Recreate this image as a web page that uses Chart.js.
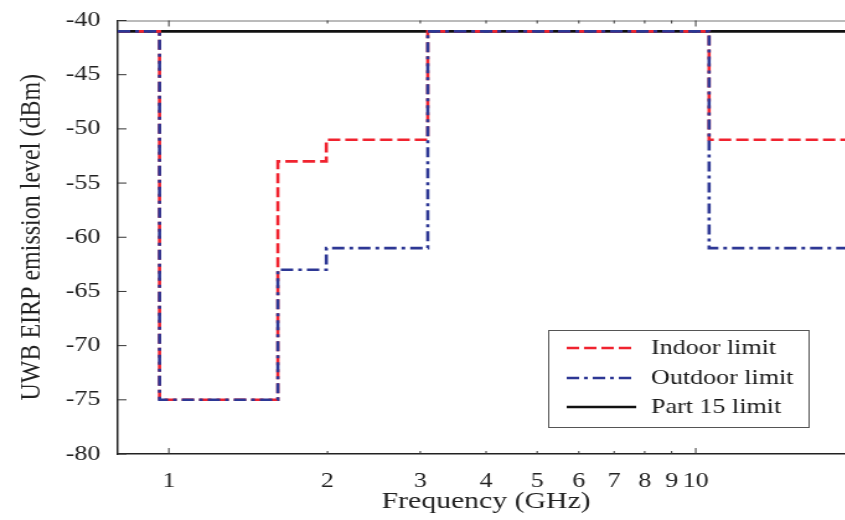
<!DOCTYPE html>
<html>
<head>
<meta charset="utf-8">
<script src="https://cdn.jsdelivr.net/npm/chart.js@4.4.0/dist/chart.umd.min.js"></script>
<style>
html, body { margin: 0; padding: 0; overflow: hidden; background: #fff; }
/* the reference is stretched sideways, so the whole chart is too */
#chart-container { width: 690px; height: 520px; transform: scaleX(1.24); transform-origin: 0 0; }
</style>
</head>
<body>
<div id="chart-container"><canvas id="mycanvas" width="690" height="520"></canvas></div>
<script>
// FCC UWB emission mask, step changes at these frequencies (GHz)
var freqBreaks = [0.8, 0.96, 1.61, 1.99, 3.1, 10.6, 20];
var indoorLimit = [-41, -75, -53, -51, -41, -51, -51];
var outdoorLimit = [-41, -75, -63, -61, -41, -61, -61];
var part15Limit = [-41, -41, -41, -41, -41, -41, -41];

var xTickValues = [1, 2, 3, 4, 5, 6, 7, 8, 9, 10];
var xTickLabels = ['1', '2', '3', '4', '5', '6', '7', '8', '9', '10'];
var yTickValues = [-80, -75, -70, -65, -60, -55, -50, -45, -40];

var serif = '"Liberation Serif", "Times New Roman", serif';

// each value holds from its break up to the next one
var toPoints = function(ys) {
    return freqBreaks.map(function(f, i) { return { x: f, y: ys[i] }; });
};

// legend entries, drawn in a box inside the plot
var legendItems = [
    { text: 'Indoor limit', color: '#f0232f', dash: [10, 4] },
    { text: 'Outdoor limit', color: '#2d3794', dash: [10, 4, 3, 4] },
    { text: 'Part 15 limit', color: '#111111', dash: [] }
];

var framePlugin = {
    id: 'frame',
    afterDraw: function(chart) {
        var ctx = chart.ctx;
        var a = chart.chartArea;
        var xs = chart.scales.x;
        var ys = chart.scales.y;
        ctx.save();
        // top border
        ctx.strokeStyle = '#777';
        ctx.lineWidth = 1;
        ctx.beginPath();
        ctx.moveTo(a.left, a.top + 0.5);
        ctx.lineTo(a.right, a.top + 0.5);
        ctx.stroke();
        // inward ticks
        ctx.strokeStyle = '#333';
        xTickValues.forEach(function(v) {
            var px = xs.getPixelForValue(v);
            var len = (v === 1 || v === 10) ? 6 : 3;
            ctx.beginPath();
            ctx.moveTo(px, a.bottom);
            ctx.lineTo(px, a.bottom - len);
            ctx.moveTo(px, a.top);
            ctx.lineTo(px, a.top + len);
            ctx.stroke();
        });
        yTickValues.forEach(function(v) {
            var py = ys.getPixelForValue(v);
            ctx.beginPath();
            ctx.moveTo(a.left, py);
            ctx.lineTo(a.left + 7, py);
            ctx.stroke();
        });

        // legend box
        var bx = 442, by = 330, bw = 210, bh = 97;
        ctx.fillStyle = '#fff';
        ctx.fillRect(bx, by, bw, bh);
        ctx.strokeStyle = '#555';
        ctx.lineWidth = 1;
        ctx.strokeRect(bx + 0.5, by + 0.5, bw, bh);
        var rows = [348, 378, 407];
        ctx.font = '21px ' + serif;
        ctx.textBaseline = 'middle';
        ctx.textAlign = 'left';
        legendItems.forEach(function(item, i) {
            ctx.strokeStyle = item.color;
            ctx.lineWidth = 2.6;
            ctx.setLineDash(item.dash);
            ctx.beginPath();
            ctx.moveTo(457, rows[i]);
            ctx.lineTo(513, rows[i]);
            ctx.stroke();
            ctx.setLineDash([]);
            ctx.fillStyle = '#1a1a1a';
            ctx.fillText(item.text, 525, rows[i]);
        });
        ctx.restore();
    }
};

var ctx = document.getElementById('mycanvas');

var chart = new Chart(ctx, {
    type: 'line',
    data: {
        datasets: [
            {
                label: 'Outdoor limit',
                data: toPoints(outdoorLimit),
                stepped: 'before',
                borderColor: '#2d3794',
                borderWidth: 2.6,
                borderDash: [10, 4, 3, 4],
                pointRadius: 0,
                fill: false
            },
            {
                label: 'Indoor limit',
                data: toPoints(indoorLimit),
                stepped: 'before',
                borderColor: '#f0232f',
                borderWidth: 2.6,
                borderDash: [10, 4],
                pointRadius: 0,
                fill: false
            },
            {
                label: 'Part 15 limit',
                data: toPoints(part15Limit),
                stepped: 'before',
                borderColor: '#111111',
                borderWidth: 2.8,
                pointRadius: 0,
                fill: false
            }
        ]
    },
    options: {
        responsive: false,
        animation: false,
        devicePixelRatio: 1,
        layout: { padding: { top: 20.5, right: 1, left: 0, bottom: 0 } },
        plugins: {
            legend: { display: false },
            tooltip: { enabled: false }
        },
        scales: {
            x: {
                type: 'logarithmic',
                min: 0.8,
                max: 20,
                grid: { display: false, drawTicks: false },
                border: { display: true, color: '#222', width: 1.5 },
                afterBuildTicks: function(scale) {
                    scale.ticks = xTickValues.map(function(v) { return { value: v }; });
                },
                afterFit: function(scale) {
                    scale.height = 66;
                    scale.paddingLeft = 0;
                    scale.paddingRight = 0;
                },
                ticks: {
                    autoSkip: false,
                    maxRotation: 0,
                    padding: 15,
                    color: '#222',
                    font: { family: serif, size: 21 },
                    callback: function(value) {
                        var i = xTickValues.indexOf(value);
                        return i >= 0 ? xTickLabels[i] : '';
                    }
                },
                title: {
                    display: true,
                    text: 'Frequency (GHz)',
                    color: '#222',
                    font: { family: serif, size: 24 },
                    padding: { top: 0, bottom: 4 }
                }
            },
            y: {
                min: -80,
                max: -40,
                grid: { display: false, drawTicks: false },
                border: { display: true, color: '#222', width: 1.5 },
                afterBuildTicks: function(scale) {
                    scale.ticks = yTickValues.map(function(v) { return { value: v }; });
                },
                afterFit: function(scale) {
                    scale.width = 95;
                    scale.paddingTop = 0;
                    scale.paddingBottom = 0;
                },
                ticks: {
                    padding: 14,
                    color: '#222',
                    font: { family: serif, size: 21 }
                },
                title: {
                    display: true,
                    text: 'UWB EIRP emission level (dBm)',
                    color: '#222',
                    font: { family: serif, size: 24 },
                    padding: { top: 11, bottom: 0 }
                }
            }
        }
    },
    plugins: [framePlugin]
});
</script>
</body>
</html>
